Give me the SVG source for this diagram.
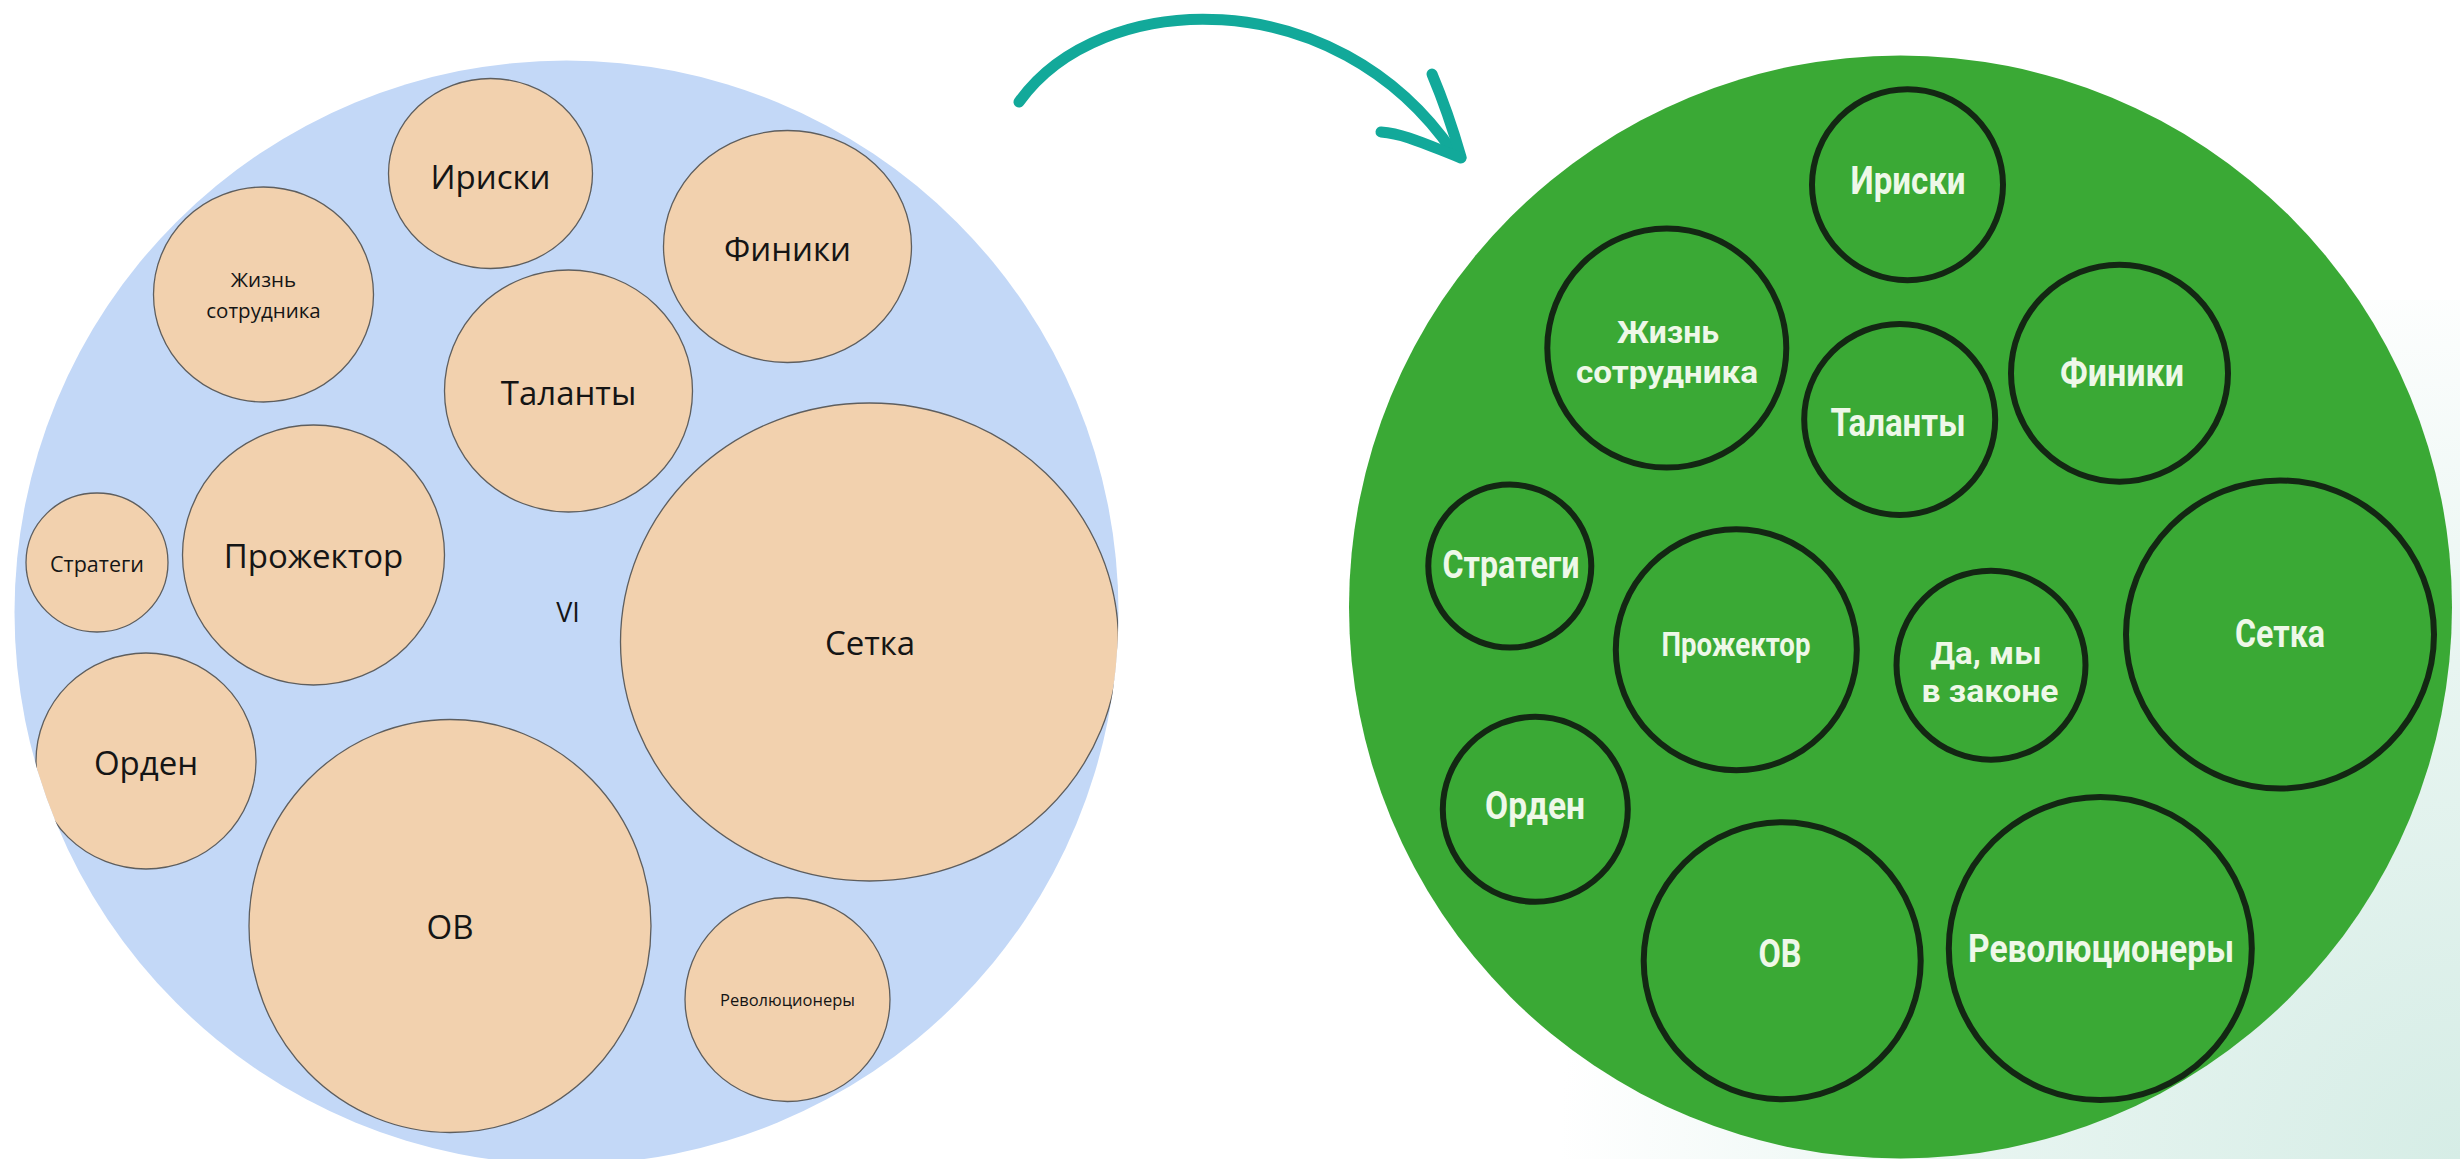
<svg xmlns="http://www.w3.org/2000/svg" width="2460" height="1159" viewBox="0 0 2460 1159">
  <style>
    .bg-blue { fill: #c3d8f7; }
    .peach { fill: #f2d1ae; stroke: #5e5e5e; stroke-width: 1.3; }
    .lbl-l { font-family: "Open Sans", "Noto Sans", "DejaVu Sans", sans-serif; fill: #151515; text-anchor: middle; }
    .bg-green { fill: #3aa935; }
    .gnode { fill: none; stroke: #132713; stroke-width: 6; }
    .lbl-r { font-family: Roboto, "Liberation Sans", sans-serif; font-weight: 700; fill: #eef8e8; text-anchor: middle; }
    .arrow { fill: none; stroke: #12a99a; stroke-width: 11; stroke-linecap: round; stroke-linejoin: round; }
  </style>
  <defs>
    <clipPath id="blueClip">
      <circle cx="566.5" cy="612.5" r="552"/>
    </clipPath>
    <radialGradient id="cornerGlow" cx="2460" cy="1159" r="900" gradientUnits="userSpaceOnUse">
      <stop offset="0" stop-color="#d6ede6"/>
      <stop offset="0.55" stop-color="#e8f5f1"/>
      <stop offset="1" stop-color="#ffffff"/>
    </radialGradient>
  </defs>

  <rect width="2460" height="1159" fill="#ffffff"/>
  <rect x="1500" y="300" width="960" height="859" fill="url(#cornerGlow)"/>

  <!-- Left bubble chart -->
  <g id="left-chart">
    <circle class="bg-blue" cx="566.5" cy="612.5" r="552"/>
    <g clip-path="url(#blueClip)">
      <g id="l-iriski">
        <ellipse class="peach" cx="490.5" cy="173.5" rx="102" ry="95"/>
        <text class="lbl-l" x="490.5" y="189" font-size="33">Ириски</text>
      </g>
      <g id="l-finiki">
        <ellipse class="peach" cx="787.5" cy="246.5" rx="124" ry="116"/>
        <text class="lbl-l" x="787.5" y="261" font-size="33">Финики</text>
      </g>
      <g id="l-zhizn">
        <ellipse class="peach" cx="263.5" cy="294.5" rx="110" ry="107.5"/>
        <text class="lbl-l" x="263.5" y="287" font-size="20.5">Жизнь</text>
        <text class="lbl-l" x="263.5" y="318" font-size="20.5">сотрудника</text>
      </g>
      <g id="l-talanty">
        <ellipse class="peach" cx="568.5" cy="391" rx="124" ry="121"/>
        <text class="lbl-l" x="568.5" y="405" font-size="33">Таланты</text>
      </g>
      <g id="l-strategi">
        <ellipse class="peach" cx="97" cy="562.5" rx="71" ry="69.5"/>
        <text class="lbl-l" x="97" y="572" font-size="21.5">Стратеги</text>
      </g>
      <g id="l-prozhektor">
        <ellipse class="peach" cx="313.5" cy="555" rx="131" ry="130"/>
        <text class="lbl-l" x="313.5" y="568" font-size="33">Прожектор</text>
      </g>
      <g id="l-setka">
        <ellipse class="peach" cx="869.5" cy="642" rx="249" ry="239"/>
        <text class="lbl-l" x="870" y="655" font-size="33">Сетка</text>
      </g>
      <g id="l-orden">
        <ellipse class="peach" cx="146" cy="761" rx="110" ry="108"/>
        <text class="lbl-l" x="146" y="775" font-size="33">Орден</text>
      </g>
      <g id="l-ov">
        <ellipse class="peach" cx="450" cy="926" rx="201" ry="206.5"/>
        <text class="lbl-l" x="450" y="939" font-size="33">ОВ</text>
      </g>
      <g id="l-revolyutsionery">
        <ellipse class="peach" cx="787.5" cy="999.5" rx="102.5" ry="102"/>
        <text class="lbl-l" x="787.5" y="1006" font-size="16.5">Революционеры</text>
      </g>
    </g>
    <text id="l-vi" class="lbl-l" x="568" y="621.5" font-size="27">VI</text>
  </g>

  <!-- Transition arrow -->
  <g id="connectors">
    <path class="arrow" d="M1019,102 C1100,-12 1335,-20 1453,152"/>
    <path class="arrow" d="M1432,74 Q1448,112 1461,157"/>
    <path class="arrow" d="M1381,132 C1405,134 1425,144 1461,158"/>
  </g>

  <!-- Right bubble chart -->
  <g id="right-chart">
    <circle class="bg-green" cx="1900.5" cy="607" r="551.5"/>
    <g id="r-iriski">
      <circle class="gnode" cx="1907.5" cy="184.7" r="95.5"/>
      <text class="lbl-r" x="1908" y="193.5" font-size="38" textLength="115" lengthAdjust="spacingAndGlyphs">Ириски</text>
    </g>
    <g id="r-zhizn">
      <circle class="gnode" cx="1666.8" cy="348.1" r="119.5"/>
      <text class="lbl-r" x="1668" y="343" font-size="32" textLength="102" lengthAdjust="spacingAndGlyphs">Жизнь</text>
      <text class="lbl-r" x="1667" y="383" font-size="32" textLength="182" lengthAdjust="spacingAndGlyphs">сотрудника</text>
    </g>
    <g id="r-talanty">
      <circle class="gnode" cx="1899.7" cy="419.4" r="95.5"/>
      <text class="lbl-r" x="1898" y="436" font-size="38" textLength="135" lengthAdjust="spacingAndGlyphs">Таланты</text>
    </g>
    <g id="r-finiki">
      <circle class="gnode" cx="2119.5" cy="373.2" r="108.5"/>
      <text class="lbl-r" x="2122" y="386" font-size="38" textLength="124" lengthAdjust="spacingAndGlyphs">Финики</text>
    </g>
    <g id="r-strategi">
      <circle class="gnode" cx="1509.8" cy="566.1" r="81.5"/>
      <text class="lbl-r" x="1511" y="578" font-size="38" textLength="137" lengthAdjust="spacingAndGlyphs">Стратеги</text>
    </g>
    <g id="r-prozhektor">
      <circle class="gnode" cx="1736.3" cy="649.7" r="120.5"/>
      <text class="lbl-r" x="1736" y="656" font-size="34" textLength="149" lengthAdjust="spacingAndGlyphs">Прожектор</text>
    </g>
    <g id="r-da-my">
      <circle class="gnode" cx="1991" cy="665.2" r="94.5"/>
      <text class="lbl-r" x="1986" y="664" font-size="31" textLength="111" lengthAdjust="spacingAndGlyphs">Да, мы</text>
      <text class="lbl-r" x="1990" y="702" font-size="31" textLength="137" lengthAdjust="spacingAndGlyphs">в законе</text>
    </g>
    <g id="r-setka">
      <circle class="gnode" cx="2280" cy="634.5" r="154"/>
      <text class="lbl-r" x="2280" y="647" font-size="38" textLength="90" lengthAdjust="spacingAndGlyphs">Сетка</text>
    </g>
    <g id="r-orden">
      <circle class="gnode" cx="1535.3" cy="809.3" r="92.5"/>
      <text class="lbl-r" x="1535" y="819" font-size="38" textLength="100" lengthAdjust="spacingAndGlyphs">Орден</text>
    </g>
    <g id="r-ov">
      <circle class="gnode" cx="1782.2" cy="960.8" r="138.5"/>
      <text class="lbl-r" x="1780" y="966.5" font-size="38" textLength="43" lengthAdjust="spacingAndGlyphs">ОВ</text>
    </g>
    <g id="r-revolyutsionery">
      <circle class="gnode" cx="2100.3" cy="948.6" r="151.5"/>
      <text class="lbl-r" x="2101" y="962" font-size="38" textLength="266" lengthAdjust="spacingAndGlyphs">Революционеры</text>
    </g>
  </g>
</svg>
